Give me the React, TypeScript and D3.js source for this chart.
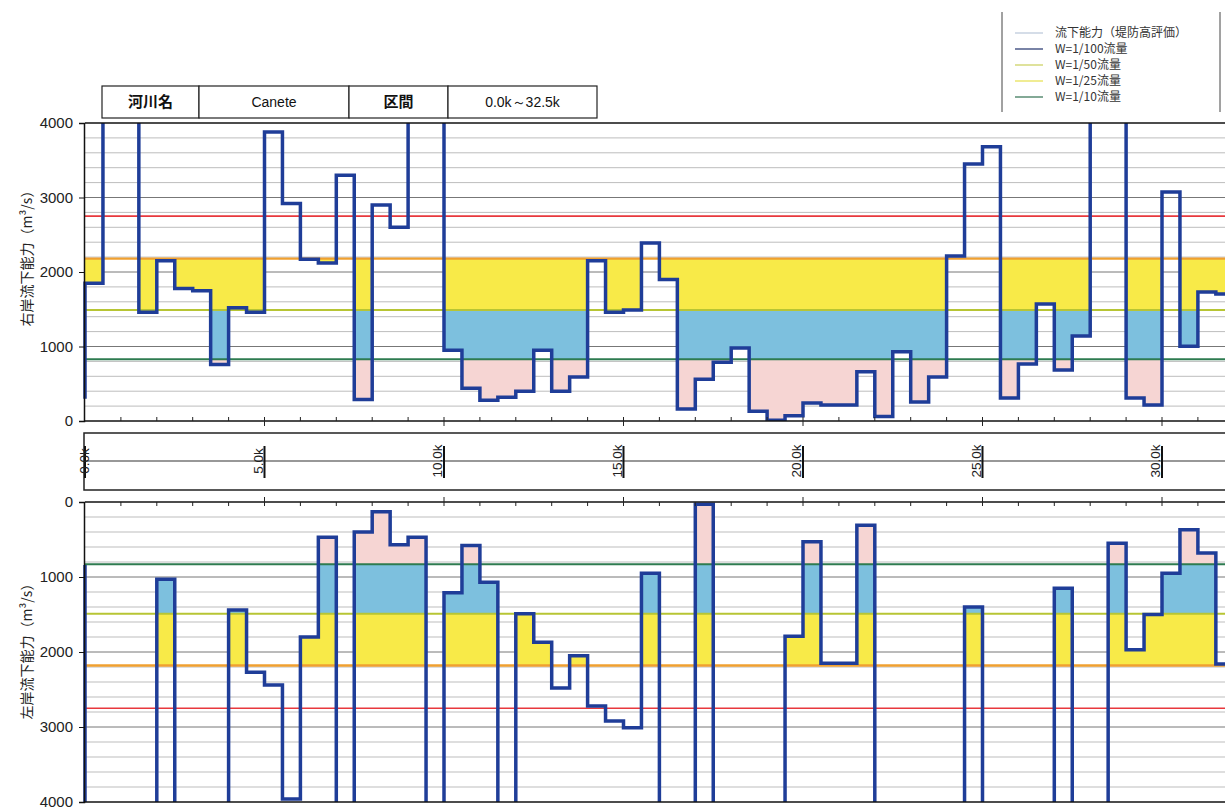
import * as d3 from "d3";
import { useRef, useEffect } from "react";

// distance posts (km), start of each 0.5 km section
const KM = [
  0, 0.5, 1, 1.5, 2, 2.5, 3, 3.5, 4, 4.5, 5, 5.5, 6, 6.5, 7, 7.5, 8, 8.5, 9, 9.5,
  10, 10.5, 11, 11.5, 12, 12.5, 13, 13.5, 14, 14.5, 15, 15.5, 16, 16.5, 17, 17.5,
  18, 18.5, 19, 19.5, 20, 20.5, 21, 21.5, 22, 22.5, 23, 23.5, 24, 24.5, 25, 25.5,
  26, 26.5, 27, 27.5, 28, 28.5, 29, 29.5, 30, 30.5, 31, 31.5, 32,
];

// 右岸 capacity (m3/s); values above 4000 run off the chart
const RIGHT_BANK = [
  1850, 4500, 4500, 1460, 2150, 1780, 1750, 760, 1520, 1460, 3880, 2920, 2170, 2120, 3300, 290,
  2900, 2600, 4500, 4500, 950, 440, 280, 320, 400, 950, 400, 590, 2150, 1460, 1490, 2390,
  1900, 160, 560, 790, 980, 130, 10, 70, 240, 215, 215, 660, 60, 930, 255, 590,
  2215, 3450, 3680, 310, 765, 1570, 685, 1140, 4500, 4500, 310, 215, 3075, 1005, 1730, 1705, 1705,
];
const RIGHT_START = 300;

// 左岸 capacity (m3/s)
const LEFT_BANK = [
  4500, 4500, 4500, 4500, 1030, 4500, 4500, 4500, 1440, 2270, 2440, 3960, 1800, 470, 4500, 400,
  130, 570, 470, 4500, 1210, 580, 1070, 4500, 1490, 1870, 2480, 2050, 2720, 2920, 3010, 950,
  4500, 4500, 30, 4500, 4500, 4500, 4500, 1790, 530, 2150, 2150, 310, 4500, 4500, 4500, 4500,
  4500, 1400, 4500, 4500, 4500, 4500, 1150, 4500, 4500, 550, 1970, 1500, 950, 370, 680, 2160, 2160,
];
const LEFT_START = 840;

// design discharges
const Q_100 = 2750;
const Q_50 = 2180;
const Q_25 = 1490;
const Q_10 = 830;

const Y_TICKS = [0, 1000, 2000, 3000, 4000];
const X_MAJOR = [0, 5, 10, 15, 20, 25, 30];

const LEGEND = [
  { label: "流下能力（堤防高評価）", color: "#b9c7d8" },
  { label: "W=1/100流量", color: "#1f2f6a" },
  { label: "W=1/50流量", color: "#c9cf5a" },
  { label: "W=1/25流量", color: "#e6e04a" },
  { label: "W=1/10流量", color: "#2f6f4f" },
];

const HEADER = [
  { text: "河川名", w: 97, bold: true },
  { text: "Canete", w: 150, bold: false },
  { text: "区間", w: 99, bold: true },
  { text: "0.0k～32.5k", w: 149, bold: false },
];

const WIDTH = 1225;
const HEIGHT = 809;
const LEFT = 85;
const PX_PER_KM = 35.9;
const JP = "'Noto Sans CJK JP', sans-serif";
const NUM = "'Liberation Sans', Arial, sans-serif";

const BANDS = [
  { lo: Q_25, hi: Q_50, fill: "#f8ea48" },
  { lo: Q_10, hi: Q_25, fill: "#7dc0de" },
  { lo: 0, hi: Q_10, fill: "#f6d5d3" },
];

const REF_LINES = [
  { v: Q_100, color: "#e8383d", w: 1.6 },
  { v: Q_50, color: "#f0a030", w: 2.4 },
  { v: Q_25, color: "#b7c534", w: 2 },
  { v: Q_10, color: "#2e7b50", w: 2 },
];

export default function App() {
  const svgRef = useRef(null);

  useEffect(() => {
    const svg = d3.select(svgRef.current);
    svg.selectAll("*").remove();

    const x = d3
      .scaleLinear()
      .domain([0, 32.5])
      .range([LEFT, LEFT + 32.5 * PX_PER_KM]);
    const right = x(32.5);
    const defs = svg.append("defs");

    const drawPanel = (
      id: string,
      values: number[],
      start: number,
      top: number,
      bottom: number,
      inverted: boolean,
      title: string,
      titleY: number
    ) => {
      const y = d3
        .scaleLinear()
        .domain([0, 4000])
        .range(inverted ? [top, bottom] : [bottom, top]);

      defs
        .append("clipPath")
        .attr("id", id)
        .append("rect")
        .attr("x", LEFT - 2)
        .attr("y", top)
        .attr("width", right - LEFT + 4)
        .attr("height", bottom - top);

      const g = svg.append("g");

      // grid
      g.selectAll(".grid")
        .data(d3.range(200, 4000, 200))
        .enter()
        .append("line")
        .attr("x1", LEFT)
        .attr("x2", right)
        .attr("y1", (d) => y(d))
        .attr("y2", (d) => y(d))
        .attr("stroke", (d) => (d % 1000 === 0 ? "#777" : "#bdbdbd"))
        .attr("stroke-width", 1);

      const plot = g.append("g").attr("clip-path", `url(#${id})`);

      // shortfall fills
      values.forEach((v, i) => {
        BANDS.forEach((b) => {
          if (v >= b.hi) return;
          const lo = Math.max(v, b.lo);
          const y0 = y(lo);
          const y1 = y(b.hi);
          plot
            .append("rect")
            .attr("x", x(KM[i]))
            .attr("width", x(KM[i] + 0.5) - x(KM[i]) + 0.6)
            .attr("y", Math.min(y0, y1))
            .attr("height", Math.abs(y0 - y1))
            .attr("fill", b.fill)
            .attr("shape-rendering", "crispEdges");
        });
      });

      // design discharge lines
      REF_LINES.forEach((r) => {
        plot
          .append("line")
          .attr("x1", LEFT)
          .attr("x2", right)
          .attr("y1", y(r.v))
          .attr("y2", y(r.v))
          .attr("stroke", r.color)
          .attr("stroke-width", r.w);
      });

      // capacity step line
      const pts: [number, number][] = [[0, start]];
      values.forEach((v, i) => pts.push([KM[i], v]));
      pts.push([32.5, values[values.length - 1]]);
      const line = d3
        .line<[number, number]>()
        .x((d) => x(d[0]))
        .y((d) => y(d[1]))
        .curve(d3.curveStepAfter);
      plot
        .append("path")
        .attr("d", line(pts))
        .attr("fill", "none")
        .attr("stroke", "#1f3d98")
        .attr("stroke-width", 3.5)
        .attr("stroke-linejoin", "miter");

      // frame lines
      g.append("line")
        .attr("x1", LEFT)
        .attr("x2", right)
        .attr("y1", top)
        .attr("y2", top)
        .attr("stroke", "#111")
        .attr("stroke-width", 1.5);
      g.append("line")
        .attr("x1", LEFT)
        .attr("x2", right)
        .attr("y1", bottom)
        .attr("y2", bottom)
        .attr("stroke", "#111")
        .attr("stroke-width", 1.5);

      // km ticks on the x side
      const axisY = inverted ? top : bottom;
      const dir = inverted ? 1 : -1;
      g.selectAll(".kt")
        .data(d3.range(1, 33, 1))
        .enter()
        .append("line")
        .attr("x1", (d) => x(d))
        .attr("x2", (d) => x(d))
        .attr("y1", (d) => (d % 5 === 0 ? axisY - dir * 5 : axisY))
        .attr("y2", axisY + dir * 4)
        .attr("stroke", "#222")
        .attr("stroke-width", 1);

      // y axis
      const ax = g
        .append("g")
        .attr("transform", `translate(${LEFT - 1},0)`)
        .call(
          d3
            .axisLeft(y)
            .tickValues(Y_TICKS)
            .tickFormat(d3.format("d"))
            .tickSize(5)
            .tickPadding(6)
        );
      ax.select(".domain").attr("stroke", "#111").attr("stroke-width", 1.5);
      ax.selectAll("line").attr("stroke", "#111");
      ax.selectAll("text")
        .style("font-family", NUM)
        .style("font-size", "15px")
        .attr("fill", "#222");

      svg
        .append("text")
        .attr("transform", `translate(32,${titleY}) rotate(-90)`)
        .attr("text-anchor", "middle")
        .style("font-family", JP)
        .style("font-size", "14px")
        .attr("fill", "#222")
        .text(title);
    };

    drawPanel("clipTop", RIGHT_BANK, RIGHT_START, 123, 421, false, "右岸流下能力（m³/s）", 255);
    drawPanel("clipBottom", LEFT_BANK, LEFT_START, 502, 802, true, "左岸流下能力（m³/s）", 648);

    // distance strip
    const stripTop = 433;
    const stripBottom = 490;
    const stripMid = 461;
    svg
      .append("rect")
      .attr("x", LEFT - 1)
      .attr("y", stripTop)
      .attr("width", right - LEFT + 10)
      .attr("height", stripBottom - stripTop)
      .attr("fill", "none")
      .attr("stroke", "#222")
      .attr("stroke-width", 1.5);
    svg
      .append("line")
      .attr("x1", LEFT)
      .attr("x2", right)
      .attr("y1", stripMid)
      .attr("y2", stripMid)
      .attr("stroke", "#333")
      .attr("stroke-width", 1.2);
    X_MAJOR.forEach((k) => {
      svg
        .append("line")
        .attr("x1", x(k))
        .attr("x2", x(k))
        .attr("y1", stripMid - 15)
        .attr("y2", stripMid + 17)
        .attr("stroke", "#111")
        .attr("stroke-width", 2);
      const tx = k === 0 ? x(k) + 4 : x(k) - 2;
      svg
        .append("text")
        .attr("transform", `translate(${tx},${stripMid}) rotate(-90)`)
        .attr("text-anchor", "middle")
        .style("font-family", NUM)
        .style("font-size", "13.5px")
        .attr("fill", "#222")
        .text(`${k.toFixed(1)}k`);
    });

    // header table
    let hx = 102;
    HEADER.forEach((c) => {
      svg
        .append("rect")
        .attr("x", hx)
        .attr("y", 86)
        .attr("width", c.w)
        .attr("height", 32)
        .attr("fill", "#fff")
        .attr("stroke", "#222")
        .attr("stroke-width", 1.2);
      svg
        .append("text")
        .attr("x", hx + c.w / 2)
        .attr("y", 107)
        .attr("text-anchor", "middle")
        .style("font-family", c.bold ? JP : NUM)
        .style("font-size", c.bold ? "15px" : "14px")
        .style("font-weight", c.bold ? "bold" : "normal")
        .attr("fill", "#111")
        .text(c.text);
      hx += c.w;
    });

    // legend
    const lg = svg.append("g");
    [1002, 1220].forEach((lx) => {
      lg.append("line")
        .attr("x1", lx)
        .attr("x2", lx)
        .attr("y1", 12)
        .attr("y2", 112)
        .attr("stroke", "#444")
        .attr("stroke-width", 1);
    });
    LEGEND.forEach((d, i) => {
      const ly = 33 + i * 16;
      lg.append("line")
        .attr("x1", 1015)
        .attr("x2", 1043)
        .attr("y1", ly)
        .attr("y2", ly)
        .attr("stroke", d.color)
        .attr("stroke-width", 1.2);
      lg.append("text")
        .attr("x", 1055)
        .attr("y", ly + 4)
        .style("font-family", JP)
        .style("font-size", "12px")
        .attr("fill", "#333")
        .text(d.label);
    });
  }, []);

  return (
    <svg
      ref={svgRef}
      width={WIDTH}
      height={HEIGHT}
      style={{ position: "absolute", left: 0, top: 0, background: "#fff" }}
    />
  );
}
